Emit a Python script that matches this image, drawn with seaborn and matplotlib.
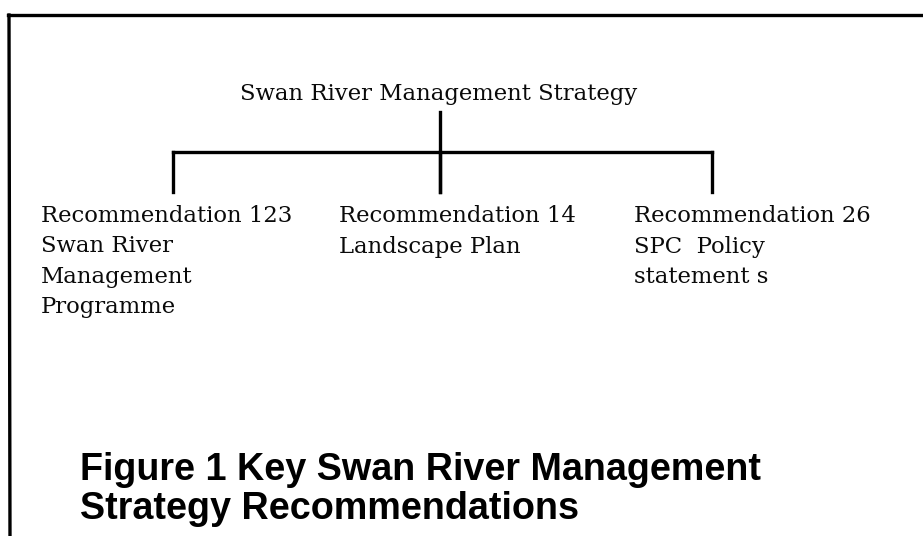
import matplotlib
matplotlib.use("Agg")
import matplotlib.pyplot as plt
import seaborn as sns
import pandas as pd

# ---- data (labels of the organisation tree) ----
root_label = "Swan River Management Strategy"
child_labels = [
    ["Recommendation 123", "Swan River", "Management", "Programme"],
    ["Recommendation 14", "Landscape Plan"],
    ["Recommendation 26", "SPC  Policy", "statement s"],
]
caption_lines = ["Figure 1 Key Swan River Management", "Strategy Recommendations"]

# ---- layout (pixel coordinates of the page) ----
W, H = 923, 536
root_x, root_base = 439, 100
branch_top, branch_y, branch_bottom = 112, 152, 192
child_anchor_x = [173, 440, 712]
child_text_x = [41, 339, 634]
child_first_base, child_line_gap = 222, 30.5
caption_x, caption_bases = 80, [480, 519]
lw = 2.4

sns.set_theme(style="white")
plt.rcParams["font.family"] = ["DejaVu Serif"]

fig = plt.figure(figsize=(W / 100, H / 100), dpi=100)
ax = fig.add_axes([0, 0, 1, 1])

# connector segments built from the tree structure
rows = []
seg = 0
rows += [dict(seg=seg, x=root_x + 1, y=branch_top), dict(seg=seg, x=root_x + 1, y=branch_bottom)]
seg += 1
rows += [dict(seg=seg, x=min(child_anchor_x), y=branch_y), dict(seg=seg, x=max(child_anchor_x), y=branch_y)]
for cx in child_anchor_x:
    seg += 1
    rows += [dict(seg=seg, x=cx, y=branch_y), dict(seg=seg, x=cx, y=branch_bottom)]
# page frame
seg += 1
rows += [dict(seg=seg, x=8, y=15), dict(seg=seg, x=W + 5, y=15)]
seg += 1
rows += [dict(seg=seg, x=9, y=15), dict(seg=seg, x=10, y=H + 5)]
segs = pd.DataFrame(rows)

sns.lineplot(data=segs, x="x", y="y", units="seg", estimator=None, sort=False,
             color="black", lw=lw, ax=ax, legend=False)
for line in ax.lines:
    line.set_solid_capstyle("projecting")
ax.set_xlim(0, W)
ax.set_ylim(H, 0)
ax.axis("off")

serif = dict(family=["DejaVu Serif"], fontsize=16.4, color="#0a0a0a")
ax.text(root_x, root_base, root_label, ha="center", va="baseline", **serif)

for tx, lines in zip(child_text_x, child_labels):
    for i, s in enumerate(lines):
        ax.text(tx, child_first_base + i * child_line_gap, s, ha="left", va="baseline", **serif)

for s, b in zip(caption_lines, caption_bases):
    ax.text(caption_x, b, s, ha="left", va="baseline", family=["Liberation Sans", "DejaVu Sans"],
            fontweight="bold", fontsize=27.2, color="black")

fig.savefig("out.png", dpi=100, facecolor="white")
